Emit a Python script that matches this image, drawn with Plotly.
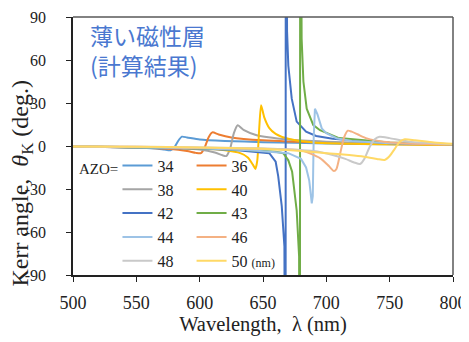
import plotly.graph_objects as go

# ---- data ----
lam_34 = [500, 530, 550, 565, 572, 577, 580, 583, 586, 590, 600, 620, 650, 700, 750, 800]
th_34 = [-0.3, -0.6, -1.0, -1.8, -2.5, -3.0, -1.0, 3.5, 6.5, 6.0, 4.5, 3.5, 2.7, 1.8, 1.2, 0.8]

lam_36 = [500, 550, 575, 590, 597, 601, 604, 607, 610, 615, 625, 650, 700, 750, 800]
th_36 = [-0.3, -1.0, -2.0, -3.5, -4.8, -5.0, -1.0, 6.0, 9.5, 8.0, 6.0, 4.0, 2.3, 1.4, 0.9]

lam_38 = [500, 550, 600, 612, 618, 621, 624, 627, 630, 635, 645, 670, 700, 750, 800]
th_38 = [-0.3, -1.0, -2.5, -4.5, -6.5, -7.0, -2.0, 9.0, 14.5, 11.0, 7.5, 4.5, 3.0, 1.6, 1.0]

lam_40 = [500, 550, 600, 620, 632, 638, 642, 644, 645.5, 647, 648.5, 651, 655, 660, 670, 690, 720, 760, 800]
th_40 = [-0.3, -0.8, -1.8, -3.0, -5.0, -8.0, -13.0, -16.0, -10.0, 12.0, 28.5, 20.0, 12.5, 8.5, 5.0, 2.5, 1.5, 1.0, 0.7]

lam_42 = [500, 550, 600, 630, 645, 655, 660, 662, 664.8, 666.9, 667.8, 668.0, 669, 670, 672.7, 676.6, 684, 692, 705, 750, 800]
th_42 = [-0.3, -0.8, -1.8, -3.0, -4.0, -5.0, -11.0, -21.0, -42.0, -70.0, -300.0, 300.0, 80.0, 56.0, 33.0, 17.0, 10.0, 7.0, 5.0, 2.0, 1.2]

lam_43 = [500, 550, 600, 640, 660, 666, 670, 673, 676.6, 678.5, 679.1, 679.4, 680.5, 681.9, 684.5, 689.7, 695, 710, 750, 800]
th_43 = [-0.3, -0.7, -1.5, -3.0, -4.0, -5.0, -10.0, -18.0, -45.0, -77.0, -300.0, 300.0, 75.0, 45.0, 26.0, 14.6, 11.0, 5.5, 2.5, 1.3]

lam_44 = [500, 550, 600, 640, 670, 680, 684, 686.5, 688.5, 689.3, 690, 691, 693, 696.4, 700, 708, 720, 750, 800]
th_44 = [-0.3, -0.7, -1.5, -3.0, -5.0, -9.0, -15.0, -24.0, -40.0, -35.0, 5.0, 26.0, 22.0, 12.3, 9.0, 5.4, 3.5, 2.0, 1.2]

lam_46 = [500, 550, 600, 650, 680, 695, 702, 706, 708, 711, 714, 717, 720, 725, 732, 745, 760, 800]
th_46 = [-0.3, -0.6, -1.2, -2.0, -3.0, -8.5, -14.0, -17.5, -16.0, -5.0, 6.0, 10.7, 10.0, 8.0, 5.3, 3.0, 2.0, 1.0]

lam_48 = [500, 550, 600, 650, 690, 705, 715, 722, 726.6, 730, 734, 738, 742, 750, 765, 800]
th_48 = [-0.3, -0.5, -1.0, -1.7, -3.5, -6.3, -9.0, -11.5, -12.6, -9.0, -1.0, 4.5, 6.5, 5.5, 3.0, 1.3]

lam_50 = [500, 550, 600, 650, 680, 700, 718, 730, 740, 746, 750, 754, 758, 762, 770, 785, 800]
th_50 = [-0.3, -0.5, -1.0, -2.0, -3.5, -5.0, -6.3, -7.5, -9.0, -9.8, -7.0, -2.0, 3.0, 4.7, 4.0, 2.5, 1.5]

series_names = ["34", "36", "38", "40", "42", "43", "44", "46", "48",
                "50 <span style='font-size:12px'>(nm)</span>"]
series_lam = [lam_34, lam_36, lam_38, lam_40, lam_42, lam_43, lam_44, lam_46, lam_48, lam_50]
series_th = [th_34, th_36, th_38, th_40, th_42, th_43, th_44, th_46, th_48, th_50]
series_colors = ["#5B9BD5", "#ED7D31", "#A5A5A5", "#FFC000", "#4472C4",
                 "#70AD47", "#9DC3E6", "#F4B183", "#C9C9C9", "#FFD966"]
series_legend = ["legend", "legend2", "legend", "legend2", "legend",
                 "legend2", "legend", "legend2", "legend", "legend2"]
series_shape = ["spline", "spline", "spline", "spline", "linear",
                "linear", "linear", "spline", "spline", "spline"]

x_ticks = [500, 550, 600, 650, 700, 750, 800]
y_ticks = [-90, -60, -30, 0, 30, 60, 90]
y_tick_text = ["-90", "-60", "-30", "0", "30", "60", "90"]

SERIF = "Liberation Serif"

fig = go.Figure()
for name, xs, ys, col, lg, shp in zip(series_names, series_lam, series_th, series_colors,
                                      series_legend, series_shape):
    fig.add_trace(go.Scatter(x=xs, y=ys, mode="lines", name=name,
                             line=dict(color=col, width=2, shape=shp, smoothing=0.6),
                             legend=lg))

# the page body adds an 8 px margin; the figure size compensates for it
fig.update_layout(
    width=461, height=334,
    margin=dict(l=65, r=16, t=9, b=67),
    paper_bgcolor="white", plot_bgcolor="white",
    showlegend=True,
    font=dict(family=SERIF, size=17, color="#222"),
    xaxis=dict(range=[500, 800], tickvals=x_ticks, ticks="outside", ticklen=5,
               tickcolor="#222", linecolor="#222", linewidth=1.5, showgrid=False,
               zeroline=False, tickfont=dict(family=SERIF, size=18), ticklabelstandoff=6,
               automargin=False,
               title=dict(text="Wavelength,  λ (nm)", font=dict(family=SERIF, size=20.5),
                          standoff=0)),
    yaxis=dict(range=[-90, 90], tickvals=y_ticks, ticktext=y_tick_text, ticks="outside",
               ticklen=22, tickcolor="rgba(0,0,0,0)", linecolor="#222", linewidth=1.5,
               showgrid=False, zeroline=False, tickfont=dict(family=SERIF, size=16),
               automargin=False,
               minor=dict(tickmode="array", tickvals=y_ticks, ticks="outside",
                          ticklen=5, tickcolor="#222", showgrid=False)),
    legend=dict(x=0.117, y=0.49, xanchor="left", yanchor="top",
                bgcolor="rgba(0,0,0,0)", font=dict(family=SERIF, size=16),
                tracegroupgap=0),
    legend2=dict(x=0.312, y=0.49, xanchor="left", yanchor="top",
                 bgcolor="rgba(0,0,0,0)", font=dict(family=SERIF, size=16),
                 tracegroupgap=0),
    shapes=[
        dict(type="line", xref="paper", yref="paper", x0=0, x1=1, y0=1, y1=1,
             line=dict(color="#595959", width=1.5)),
        dict(type="line", xref="paper", yref="paper", x0=1, x1=1, y0=0, y1=1,
             line=dict(color="#595959", width=1.5)),
    ],
    annotations=[
        dict(text="薄い磁性層<br>(計算結果)", xref="paper", yref="paper",
             x=0.039, y=1.005, xanchor="left", yanchor="top", showarrow=False,
             align="left",
             font=dict(family="Noto Sans CJK JP", size=23, color="#4A78D0")),
        dict(text="Kerr angle,  <i>θ</i><sub>K</sub> (deg.)", xref="paper", yref="paper",
             x=-0.135, y=0.357, xanchor="center", yanchor="middle", textangle=-90,
             showarrow=False, font=dict(family=SERIF, size=24)),
        dict(text="AZO=", xref="paper", yref="paper", x=0.011, y=0.411,
             xanchor="left", yanchor="middle", showarrow=False,
             font=dict(family=SERIF, size=15)),
    ],
)

fig.write_html("out.html", config={"displayModeBar": False})
